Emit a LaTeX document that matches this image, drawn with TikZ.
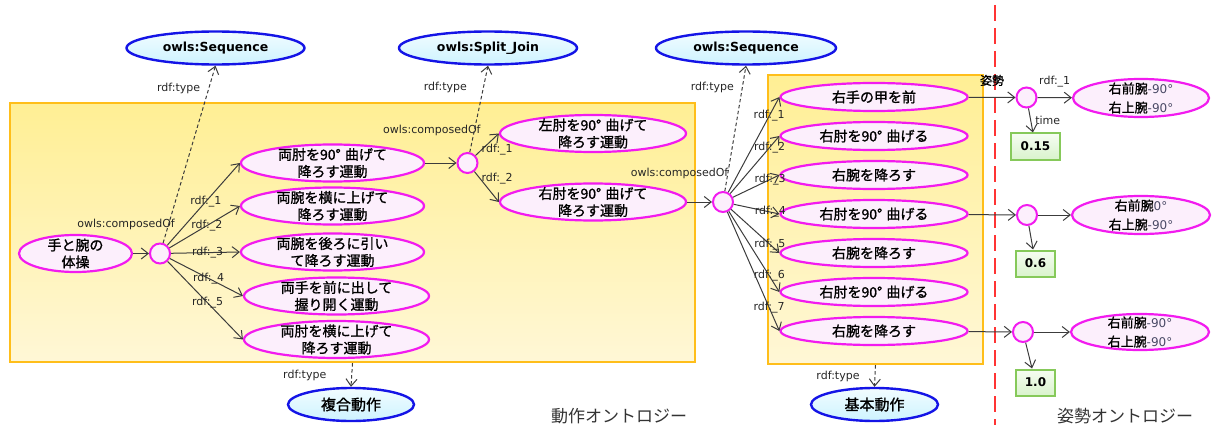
\documentclass[tikz,border=0pt]{standalone}
\usepackage{fontspec}
\setmainfont{DejaVu Sans}
\newfontfamily\jpfont[FakeBold=1.2]{Noto Sans CJK JP}
\newfontfamily\jplight{Noto Sans CJK JP}
\usetikzlibrary{shapes.geometric,arrows.meta}

\definecolor{pinkline}{HTML}{F21BEF}
\definecolor{pinkfill}{HTML}{FCEFFC}
\definecolor{blueline}{HTML}{1414E6}
\definecolor{cyantop}{HTML}{F2FCFF}
\definecolor{cyanbottom}{HTML}{CDF3FF}
\definecolor{boxline}{HTML}{FFBE1A}
\definecolor{boxtop}{HTML}{FFEF94}
\definecolor{boxbottom}{HTML}{FFF7D6}
\definecolor{redline}{HTML}{FF3434}
\definecolor{greenline}{HTML}{86C95A}
\definecolor{greentop}{HTML}{F6FDF2}
\definecolor{greenbottom}{HTML}{D9F3CC}
\definecolor{edgegray}{HTML}{3C3C3C}
\definecolor{labelgray}{HTML}{262626}
\definecolor{anglegray}{HTML}{4A4A66}

\newcommand\degsp{\kern0.3em}
\newcommand\ang[1]{{\rmfamily\fontsize{12}{14}\selectfont\color{anglegray}#1}}

\begin{document}
\begin{tikzpicture}[x=1pt,y=-1pt,
  grp/.style={rectangle, draw=boxline, line width=2.4pt, top color=boxtop, bottom color=boxbottom, inner sep=0pt},
  act/.style={ellipse, draw=pinkline, line width=2.2pt, fill=pinkfill, inner xsep=0pt, inner ysep=-6pt,
              minimum height=37pt, align=center, font=\jpfont\fontsize{14}{17}\selectfont},
  cls/.style={ellipse, draw=blueline, line width=2.4pt, top color=cyantop, bottom color=cyanbottom,
              inner sep=1pt, minimum height=33pt, font=\bfseries\fontsize{12.5}{14}\selectfont},
  junc/.style={circle, draw=pinkline, line width=2pt, fill=pinkfill, minimum size=20pt, inner sep=0pt},
  val/.style={rectangle, draw=greenline, line width=2pt, top color=greentop, bottom color=greenbottom,
              minimum height=26pt, inner sep=0pt, font=\bfseries\fontsize{12}{14}\selectfont},
  lbl/.style={font=\fontsize{11}{12}\selectfont, text=labelgray, inner sep=0.5pt},
  conn/.style={draw=edgegray, line width=1pt, -{Straight Barb[length=7pt,width=11pt,line width=1pt]}},
  typeedge/.style={conn, dash pattern=on 3.5pt off 2.5pt},
  title/.style={font=\jplight\fontsize{17}{20}\selectfont, text=black!80}
]
\useasboundingbox (0,0) rectangle (1212,425);

% group frames
\node[grp, minimum width=685pt, minimum height=259pt] (lbox) at (352.5,232.5) {};
\node[grp, minimum width=215pt, minimum height=289pt] (rbox) at (875.5,219.5) {};

% divider between the two ontologies
\draw[redline, line width=2pt, dash pattern=on 16pt off 7pt] (995,5) -- (995,425);

% class nodes
\node[cls, minimum width=178pt] (seq1) at (215.5,48) {owls:Sequence};
\node[cls, minimum width=178pt] (sj)   at (488,48) {owls:Split\_Join};
\node[cls, minimum width=180pt] (seq2) at (746,48) {owls:Sequence};
\node[cls, minimum width=126pt, font=\jpfont\fontsize{15}{17}\selectfont] (comp)  at (351,404.5) {複合動作};
\node[cls, minimum width=127pt, font=\jpfont\fontsize{15}{17}\selectfont] (basic) at (874.5,404.5) {基本動作};

% composite motion
\node[act, minimum width=113pt] (root) at (75.5,253.5) {手と腕の\\体操};
\node[junc] (cA) at (160,253.5) {};
\node[act, minimum width=183pt] (m1) at (332.5,163) {両肘を90°\degsp 曲げて\\降ろす運動};
\node[act, minimum width=183pt] (m2) at (332.5,206) {両腕を横に上げて\\降ろす運動};
\node[act, minimum width=183pt] (m3) at (332.5,252) {両腕を後ろに引い\\て降ろす運動};
\node[act, minimum width=185pt] (m4) at (336.5,296) {両手を前に出して\\握り開く運動};
\node[act, minimum width=185pt] (m5) at (336.5,339.5) {両肘を横に上げて\\降ろす運動};

\node[junc] (cB) at (467.5,163) {};
\node[act, minimum width=186pt] (s1) at (593,133.5) {左肘を90°\degsp 曲げて\\降ろす運動};
\node[act, minimum width=186pt] (s2) at (593,202) {右肘を90°\degsp 曲げて\\降ろす運動};

\node[junc] (c2) at (723,202) {};

% basic motions
\foreach \i/\y/\t in {1/97/右手の甲を前, 2/136/右肘を90°\degsp 曲げる, 3/175/右腕を降ろす,
                      4/214/右肘を90°\degsp 曲げる, 5/253/右腕を降ろす, 6/292/右肘を90°\degsp 曲げる,
                      7/331/右腕を降ろす}
  \node[act, minimum width=187pt, minimum height=28pt] (r\i) at (874,\y) {\t};

% postures
\node[junc] (rc1) at (1026.5,97.5) {};
\node[junc] (rc2) at (1027,215) {};
\node[junc] (rc3) at (1023,332) {};
\node[act, minimum width=136pt, minimum height=38pt, font=\jpfont\fontsize{13}{19}\selectfont] (p1) at (1141,98) {右前腕\ang{-90°}\\右上腕\ang{-90°}};
\node[act, minimum width=138pt, minimum height=38pt, font=\jpfont\fontsize{13}{19}\selectfont] (p2) at (1141,215) {右前腕\ang{0°}\\右上腕\ang{-90°}};
\node[act, minimum width=138pt, minimum height=36pt, font=\jpfont\fontsize{13}{19}\selectfont] (p3) at (1140,332) {右前腕\ang{-90°}\\右上腕\ang{-90°}};
\node[val, minimum width=49pt] (v1) at (1035.5,146.5) {0.15};
\node[val, minimum width=39pt] (v2) at (1035.5,263.5) {0.6};
\node[val, minimum width=39pt] (v3) at (1035.5,382.5) {1.0};

% titles
\node[title] (motionOnto) at (619,416) {動作オントロジー};
\node[title] (postureOnto) at (1125,416) {姿勢オントロジー};

% composition links
\draw[conn] (root) -- node[lbl, xshift=-15pt, yshift=29pt] {owls:composedOf} (cA);
\draw[conn] (cA) -- node[lbl, pos=0.53] {rdf:\_1} (m1.west);
\draw[conn] (cA) -- node[lbl, pos=0.53] {rdf:\_2} (m2.west);
\draw[conn] (cA) -- node[lbl, pos=0.53] {rdf:\_3} (m3.west);
\draw[conn] (cA) -- node[lbl, pos=0.53] {rdf:\_4} (m4.west);
\draw[conn] (cA) -- node[lbl, pos=0.53] {rdf:\_5} (m5.west);

\draw[conn] (m1) -- node[lbl, xshift=-9pt, yshift=33pt] {owls:composedOf} (cB);
\draw[conn] (cB) -- node[lbl, xshift=10pt, yshift=-5pt] {rdf:\_1} (s1.west);
\draw[conn] (cB) -- node[lbl, xshift=10.5pt, yshift=8pt] {rdf:\_2} (s2.west);

\draw[conn] (s2) -- node[lbl, xshift=-20pt, yshift=29pt] {owls:composedOf} (c2);
\foreach \i in {1,...,7}
  \draw[conn] (c2) -- node[lbl, pos=0.8] {rdf:\_\i} (r\i.west);

% type links
\draw[typeedge] (cA) -- node[lbl, pos=0.87, xshift=-30pt] {rdf:type} (seq1.south);
\draw[typeedge] (cB) -- node[lbl, pos=0.75, xshift=-38pt] {rdf:type} (sj.south);
\draw[typeedge] (c2) -- node[lbl, pos=0.83, xshift=-30pt] {rdf:type} (seq2.south);
\draw[typeedge] (lbox.south) -- node[lbl, pos=0.5, xshift=-47pt] {rdf:type} (comp.north);
\draw[typeedge] (rbox.south) -- node[lbl, pos=0.5, xshift=-37pt] {rdf:type} (basic.north);

% posture links
\draw[conn] (r1) -- node[yshift=17pt, inner sep=0pt, font=\jpfont\fontsize{12}{14}\selectfont] {姿勢} (rc1);
\draw[conn] (rc1) -- node[lbl, yshift=16pt] {rdf:\_1} (p1);
\draw[conn] (rc1) -- node[lbl, xshift=17pt] {time} (v1);
\draw[conn] (r4) -- (rc2);
\draw[conn] (rc2) -- (p2);
\draw[conn] (rc2) -- (v2);
\draw[conn] (r7) -- (rc3);
\draw[conn] (rc3) -- (p3);
\draw[conn] (rc3) -- (v3);
\end{tikzpicture}
\end{document}
